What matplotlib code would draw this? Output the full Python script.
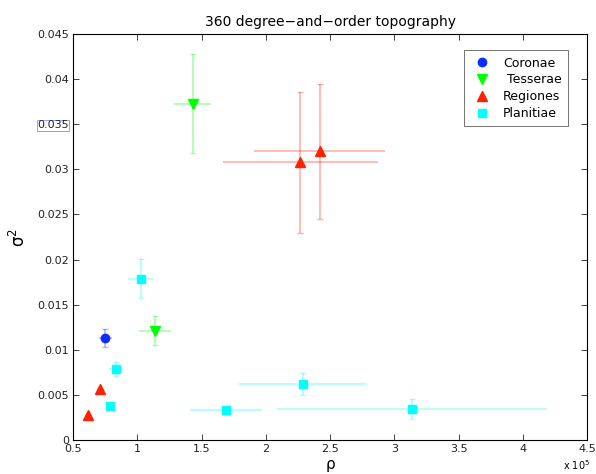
import matplotlib
matplotlib.use('Agg')
import matplotlib.pyplot as plt

# rho in units of 1e5, sigma^2
cor_x = [0.75]
cor_y = [0.0113]
cor_xe = [0.05]
cor_ye = [0.0010]

tes_x = [1.43, 1.14]
tes_y = [0.0373, 0.0121]
tes_xe = [0.145, 0.125]
tes_ye = [0.0055, 0.0016]

reg_x = [2.27, 2.42, 0.71, 0.62]
reg_y = [0.0308, 0.0320, 0.0057, 0.0028]
reg_xe = [0.60, 0.51, 0.0, 0.0]
reg_ye = [0.0078, 0.0075, 0.0, 0.0]

pla_x = [1.03, 0.835, 0.79, 1.69, 2.29, 3.14]
pla_y = [0.0179, 0.0079, 0.0038, 0.0033, 0.0062, 0.0034]
pla_xe = [0.10, 0.055, 0.0, 0.28, 0.50, 1.05]
pla_ye = [0.0022, 0.0008, 0.0, 0.0, 0.0012, 0.0011]

groups = [
    ('Coronae', cor_x, cor_y, cor_xe, cor_ye, '#0a2cff', 'o', 6),
    (' Tesserae', tes_x, tes_y, tes_xe, tes_ye, '#00ff00', 'v', 7),
    ('Regiones', reg_x, reg_y, reg_xe, reg_ye, '#ff2200', '^', 7),
    ('Planitiae', pla_x, pla_y, pla_xe, pla_ye, '#00ffff', 's', 5.5),
]

fig = plt.figure(figsize=(5.96, 4.74), dpi=100)
ax = fig.add_axes([0.1225, 0.0717, 0.8625, 0.8565])

for name, x, y, xe, ye, c, m, ms in groups:
    # horizontal bars without caps, vertical bars with caps
    ax.errorbar(x, y, xerr=xe, fmt='none', ecolor=c, alpha=0.35,
                elinewidth=1.2, capsize=0)
    ax.errorbar(x, y, yerr=ye, fmt='none', ecolor=c, alpha=0.35,
                elinewidth=1.2, capsize=2.5)
    ax.plot(x, y, ls='none', marker=m, color=c, ms=ms, mec=c,
            label=name, zorder=5)

ax.set_xlim(0.5, 4.5)
ax.set_ylim(0, 0.045)
ax.set_xticks([0.5, 1, 1.5, 2, 2.5, 3, 3.5, 4, 4.5])
ax.set_xticklabels(['0.5', '1', '1.5', '2', '2.5', '3', '3.5', '4', '4.5'])
ax.set_yticks([0, 0.005, 0.01, 0.015, 0.02, 0.025, 0.03, 0.035, 0.04, 0.045])
ax.set_yticklabels(['0', '0.005', '0.01', '0.015', '0.02', '0.025',
                    '0.03', '0.035', '0.04', '0.045'])
ax.tick_params(direction='in', top=True, right=True, labelsize=8,
               length=4, width=0.6, colors='#222222', pad=3)
for s in ax.spines.values():
    s.set_linewidth(0.8)

# the odd highlight box around one tick label
lab = ax.get_yticklabels()[7]
lab.set_bbox(dict(boxstyle='square,pad=0.05', fc='none', ec='#8888ff', lw=0.6))

ax.set_title('360 degree\u2212and\u2212order topography', fontsize=10, pad=6)
ax.set_xlabel('\u03c1', fontsize=11, labelpad=2)
ax.set_ylabel('\u03c3$^2$', fontsize=12)
ax.yaxis.set_label_coords(-0.085, 0.5)
fig.text(0.945, 0.005, 'x 10$^5$', fontsize=7, ha='left', va='bottom')

leg = ax.legend(loc='upper right', bbox_to_anchor=(0.975, 0.975),
                fontsize=9, fancybox=False, edgecolor='#333333',
                handletextpad=0.8, borderpad=0.5, labelspacing=0.3,
                handlelength=1.8)
leg.get_frame().set_linewidth(0.6)

fig.savefig('out.png', dpi=100)
